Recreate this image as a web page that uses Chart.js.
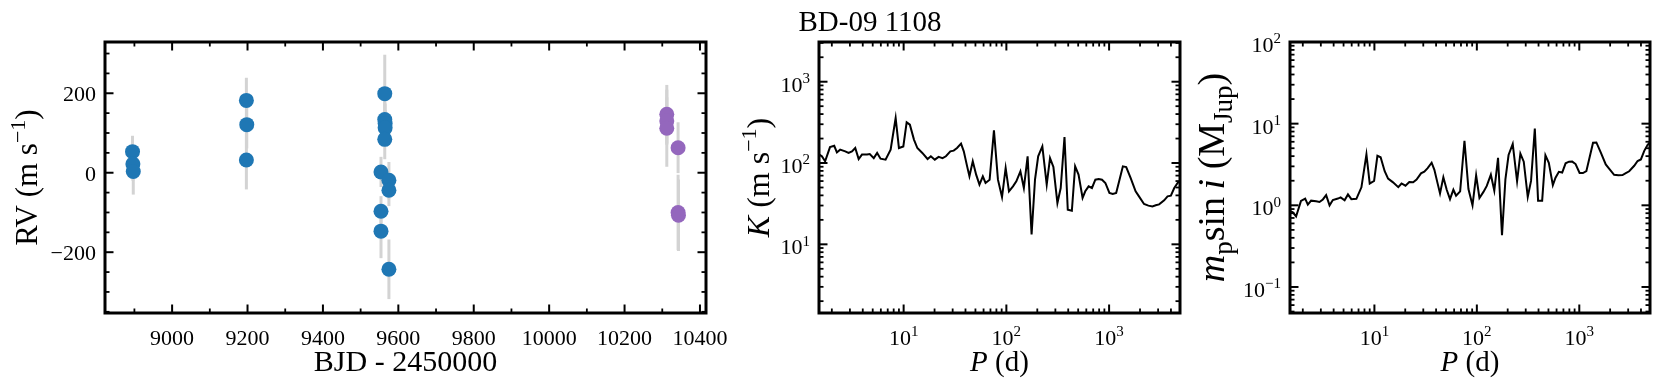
<!DOCTYPE html>
<html>
<head>
<meta charset="utf-8">
<script src="https://cdn.jsdelivr.net/npm/chart.js@4.4.1/dist/chart.umd.min.js"></script>
<style>
  html, body { margin: 0; padding: 0; background: #fff; }
  #fig { position: relative; width: 1661px; height: 386px; overflow: hidden; }
  #fig canvas { position: absolute; top: 0; }
</style>
</head>
<body>
<div id="fig">
  <canvas id="rvChart" width="760" height="386" style="left:0px"></canvas>
  <canvas id="kChart" width="460" height="386" style="left:735px"></canvas>
  <canvas id="mChart" width="466" height="386" style="left:1195px"></canvas>
</div>
<script>
// ===== DATA =====
// RV, first group (blue)
const rvTimeA = [8895, 8896, 8897, 9197, 9198, 9197, 9564, 9564, 9565, 9565, 9564, 9554, 9575, 9575, 9554, 9554, 9575];
const rvValA  = [53, 22, 3, 182, 121, 32, 199, 134, 124, 113, 84, 2, -19, -44, -97, -147, -243];
const rvErrA  = [40, 42, 58, 57, 60, 74, 98, 50, 50, 45, 50, 38, 46, 40, 38, 68, 75];
// RV, second group (purple)
const rvTimeB = [10312, 10312, 10312, 10342, 10342, 10343];
const rvValB  = [147, 130, 112, 63, -100, -107];
const rvErrB  = [74, 60, 97, 64, 95, 90];

// detection limits vs period
const periods = [1.51, 1.60, 1.72, 1.92, 2.11, 2.24, 2.41, 2.70, 2.91, 3.14,
  3.38, 3.65, 3.93, 4.40, 4.68, 5.12, 5.52, 5.96, 6.67, 7.47,
  8.36, 9.00, 9.93, 10.7, 11.5, 12.6, 13.6, 15.2, 17.1, 18.4,
  20.1, 21.9, 23.9, 25.8, 28.5, 30.7, 33.1, 36.2, 38.5, 41.5,
  43.7, 47.1, 50.8, 54.7, 59.0, 62.7, 68.7, 75.7, 82.8, 90.7,
  98.4, 106, 116, 125, 137, 148, 161, 176, 190, 204,
  224, 247, 266, 287, 314, 338, 368, 396, 434, 467,
  504, 552, 586, 632, 681, 735, 793, 853, 920, 1007,
  1086, 1172, 1263, 1362, 1468, 1619, 1812, 1954, 2188, 2411,
  2641, 2845, 3069, 3436, 3707, 3994, 4306, 4645, 4890];
const semiAmp = [127, 121, 105, 157, 163, 135, 146, 139, 133, 139,
  153, 112, 127, 127, 129, 115, 133, 113, 110, 146,
  357, 153, 160, 316, 296, 194, 153, 133, 112, 121,
  110, 119, 115, 121, 139, 142, 153, 173, 139, 91,
  68.6, 105, 72, 54.2, 68.6, 56.8, 62.4, 252, 62.4, 38.2,
  86.9, 44.9, 51.7, 59.6, 79.1, 49.3, 121, 13.2, 62.4, 121,
  160, 54.2, 115, 89.3, 32.2, 49.3, 209, 26.7, 25.9, 91,
  72, 37.2, 44.9, 51.7, 49.3, 62.4, 63.6, 62.4, 56.8, 42.8,
  41.6, 42.8, 62.4, 91, 89.3, 65.5, 44.9, 38.9, 31.3, 29.9,
  29.3, 30.2, 31.0, 34.8, 38.9, 39.6, 49.3, 56.8, 59.6];
const minMass = [0.85, 0.82, 0.73, 1.13, 1.21, 1.02, 1.14, 1.12, 1.10, 1.18,
  1.33, 1.00, 1.16, 1.21, 1.25, 1.15, 1.36, 1.19, 1.20, 1.66,
  4.20, 1.85, 1.99, 4.04, 3.88, 2.62, 2.12, 1.91, 1.67, 1.85,
  1.74, 1.93, 1.92, 2.07, 2.46, 2.58, 2.85, 3.32, 2.72, 1.83,
  1.40, 2.20, 1.55, 1.19, 1.55, 1.31, 1.48, 6.18, 1.58, 1.00,
  2.33, 1.23, 1.46, 1.73, 2.37, 1.51, 3.82, 0.43, 2.08, 4.13,
  5.64, 1.97, 4.29, 3.42, 1.27, 1.99, 8.69, 1.14, 1.14, 4.10,
  3.32, 1.77, 2.18, 2.57, 2.52, 3.27, 3.42, 3.43, 3.20, 2.49,
  2.48, 2.62, 3.91, 5.85, 5.89, 4.46, 3.17, 2.82, 2.36, 2.33,
  2.35, 2.48, 2.61, 3.05, 3.49, 3.65, 4.65, 5.50, 5.87];

// ticks
const rvXTicks = [9000, 9200, 9400, 9600, 9800, 10000, 10200, 10400];
const rvXMinor = [8900, 9100, 9300, 9500, 9700, 9900, 10100, 10300];
const rvYTicks = [-200, 0, 200];
const rvYMinor = [-350, -300, -250, -150, -100, -50, 50, 100, 150, 250, 300];
const periodExps = [1, 2, 3];
const kExps = [1, 2, 3];
const massExps = [-1, 0, 1, 2];

const FONT = '"Liberation Serif", "DejaVu Serif", serif';
const TICK_SIZE = 22;

// ===== HELPERS =====
function logMinors(lo, hi) {
  const out = [];
  for (let e = Math.floor(Math.log10(lo)); e <= Math.ceil(Math.log10(hi)); e++) {
    for (let m = 2; m <= 9; m++) out.push(m * Math.pow(10, e));
  }
  return out;
}

function drawRich(ctx, parts, x, y, size, align) {
  const fontOf = p => (p.it ? 'italic ' : '') + Math.round((p.sup || p.sub) ? size * 0.7 : size) + 'px ' + FONT;
  const widths = parts.map(p => { ctx.font = fontOf(p); return ctx.measureText(p.t).width; });
  const total = widths.reduce((s, w) => s + w, 0);
  let cx = align === 'center' ? x - total / 2 : align === 'right' ? x - total : x;
  parts.forEach((p, i) => {
    ctx.font = fontOf(p);
    const dy = p.sup ? -size * 0.4 : p.sub ? size * 0.22 : 0;
    ctx.fillText(p.t, cx, y + dy);
    cx += widths[i];
  });
}

const linLabel = v => [{ t: v < 0 ? '\u2212' + Math.abs(v) : String(v) }];
const powLabel = e => [{ t: '10' }, { t: e < 0 ? '\u2212' + Math.abs(e) : String(e), sup: true }];

// ===== PLUGINS =====
const errorBarPlugin = {
  id: 'errorBars',
  beforeDatasetsDraw(chart) {
    const ctx = chart.ctx, xs = chart.scales.x, ys = chart.scales.y;
    ctx.save();
    ctx.strokeStyle = '#d3d3d3';
    ctx.lineWidth = 3;
    chart.data.datasets.forEach(ds => {
      ds.data.forEach((pt, i) => {
        const px = xs.getPixelForValue(pt.x);
        ctx.beginPath();
        ctx.moveTo(px, ys.getPixelForValue(pt.y - ds.errors[i]));
        ctx.lineTo(px, ys.getPixelForValue(pt.y + ds.errors[i]));
        ctx.stroke();
      });
    });
    ctx.restore();
  }
};

const framePlugin = {
  id: 'frame',
  afterDraw(chart, args, o) {
    const ctx = chart.ctx, a = chart.chartArea;
    const xs = chart.scales.x, ys = chart.scales.y;
    ctx.save();
    ctx.strokeStyle = '#000';
    ctx.fillStyle = '#000';
    ctx.lineCap = 'butt';
    const seg = (x1, y1, x2, y2) => { ctx.beginPath(); ctx.moveTo(x1, y1); ctx.lineTo(x2, y2); ctx.stroke(); };
    const xTicks = (vals, len, w) => {
      ctx.lineWidth = w;
      vals.forEach(v => {
        const p = xs.getPixelForValue(v);
        if (p < a.left - 0.5 || p > a.right + 0.5) return;
        seg(p, a.bottom, p, a.bottom - len);
        seg(p, a.top, p, a.top + len);
      });
    };
    const yTicks = (vals, len, w) => {
      ctx.lineWidth = w;
      vals.forEach(v => {
        const p = ys.getPixelForValue(v);
        if (p < a.top - 0.5 || p > a.bottom + 0.5) return;
        seg(a.left, p, a.left + len, p);
        seg(a.right, p, a.right - len, p);
      });
    };
    xTicks(o.xMinor, 4.5, 1.8);
    yTicks(o.yMinor, 4.5, 1.8);
    xTicks(o.xMajor, 8.5, 2);
    yTicks(o.yMajor, 8.5, 2);

    ctx.lineWidth = 3;
    ctx.strokeRect(a.left, a.top, a.right - a.left, a.bottom - a.top);

    // tick labels
    o.xMajor.forEach((v, i) => {
      const p = xs.getPixelForValue(v);
      drawRich(ctx, o.xLabels[i], p, a.bottom + 32, TICK_SIZE, 'center');
    });
    o.yMajor.forEach((v, i) => {
      const p = ys.getPixelForValue(v);
      const off = o.xLabels[0].length > 1 ? 10 : 8;
      drawRich(ctx, o.yLabels[i], a.left - 9, p + off, TICK_SIZE, 'right');
    });

    // axis titles
    drawRich(ctx, o.xTitle, (a.left + a.right) / 2, 371, o.xTitleSize, 'center');
    ctx.save();
    ctx.translate(o.yTitleX, (a.top + a.bottom) / 2);
    ctx.rotate(-Math.PI / 2);
    drawRich(ctx, o.yTitle, 0, 0, o.yTitleSize, 'center');
    ctx.restore();

    if (o.title) drawRich(ctx, [{ t: o.title.text }], o.title.x, 31, 29, 'center');
    ctx.restore();
  }
};

const baseOptions = (padding) => ({
  responsive: false,
  animation: false,
  events: [],
  layout: { padding: padding },
  plugins: { legend: { display: false }, tooltip: { enabled: false } }
});

// ===== RV PANEL =====
(function() {
  const opts = baseOptions({ left: 105, top: 42, right: 54, bottom: 73 });
  opts.scales = {
    x: { type: 'linear', min: 8822, max: 10416, display: false },
    y: { type: 'linear', min: -353, max: 329, display: false }
  };
  opts.plugins.frame = {
    xMajor: rvXTicks, xMinor: rvXMinor, yMajor: rvYTicks, yMinor: rvYMinor,
    xLabels: rvXTicks.map(linLabel), yLabels: rvYTicks.map(linLabel),
    xTitle: [{ t: 'BJD - 2450000' }], xTitleSize: 30,
    yTitle: [{ t: 'RV (m s' }, { t: '\u22121', sup: true }, { t: ')' }], yTitleSize: 31,
    yTitleX: 37
  };
  new Chart(document.getElementById('rvChart'), {
    type: 'scatter',
    data: {
      datasets: [
        {
          data: rvTimeA.map((t, i) => ({ x: t, y: rvValA[i] })),
          errors: rvErrA,
          backgroundColor: '#1f77b4', borderWidth: 0, pointRadius: 7.5
        },
        {
          data: rvTimeB.map((t, i) => ({ x: t, y: rvValB[i] })),
          errors: rvErrB,
          backgroundColor: '#9467bd', borderWidth: 0, pointRadius: 7.5
        }
      ]
    },
    options: opts,
    plugins: [errorBarPlugin, framePlugin]
  });
})();

// ===== K PANEL =====
(function() {
  const opts = baseOptions({ left: 84, top: 42, right: 15, bottom: 73 });
  opts.scales = {
    x: { type: 'logarithmic', min: 1.5, max: 4900, display: false },
    y: { type: 'logarithmic', min: 1.43, max: 3080, display: false }
  };
  opts.plugins.frame = {
    xMajor: periodExps.map(e => Math.pow(10, e)), xMinor: logMinors(1.5, 4900),
    yMajor: kExps.map(e => Math.pow(10, e)), yMinor: logMinors(1.43, 3080),
    xLabels: periodExps.map(powLabel), yLabels: kExps.map(powLabel),
    xTitle: [{ t: 'P', it: true }, { t: ' (d)' }], xTitleSize: 29,
    yTitle: [{ t: 'K', it: true }, { t: ' (m s' }, { t: '\u22121', sup: true }, { t: ')' }], yTitleSize: 32,
    yTitleX: 34,
    title: { text: 'BD-09 1108', x: 135 }
  };
  new Chart(document.getElementById('kChart'), {
    type: 'scatter',
    data: {
      datasets: [{
        data: periods.map((p, i) => ({ x: p, y: semiAmp[i] })),
        showLine: true, borderColor: '#000', borderWidth: 2, pointRadius: 0, tension: 0
      }]
    },
    options: opts,
    plugins: [framePlugin]
  });
})();

// ===== MASS PANEL =====
(function() {
  const opts = baseOptions({ left: 95, top: 42, right: 11, bottom: 73 });
  opts.scales = {
    x: { type: 'logarithmic', min: 1.5, max: 4900, display: false },
    y: { type: 'logarithmic', min: 0.048, max: 100, display: false }
  };
  opts.plugins.frame = {
    xMajor: periodExps.map(e => Math.pow(10, e)), xMinor: logMinors(1.5, 4900),
    yMajor: massExps.map(e => Math.pow(10, e)), yMinor: logMinors(0.048, 100),
    xLabels: periodExps.map(powLabel), yLabels: massExps.map(powLabel),
    xTitle: [{ t: 'P', it: true }, { t: ' (d)' }], xTitleSize: 29,
    yTitle: [{ t: 'm', it: true }, { t: 'p', sub: true }, { t: 'sin' }, { t: '\u2009i', it: true },
             { t: ' (M' }, { t: 'Jup', sub: true }, { t: ')' }], yTitleSize: 38,
    yTitleX: 29
  };
  new Chart(document.getElementById('mChart'), {
    type: 'scatter',
    data: {
      datasets: [{
        data: periods.map((p, i) => ({ x: p, y: minMass[i] })),
        showLine: true, borderColor: '#000', borderWidth: 2, pointRadius: 0, tension: 0
      }]
    },
    options: opts,
    plugins: [framePlugin]
  });
})();
</script>
</body>
</html>
